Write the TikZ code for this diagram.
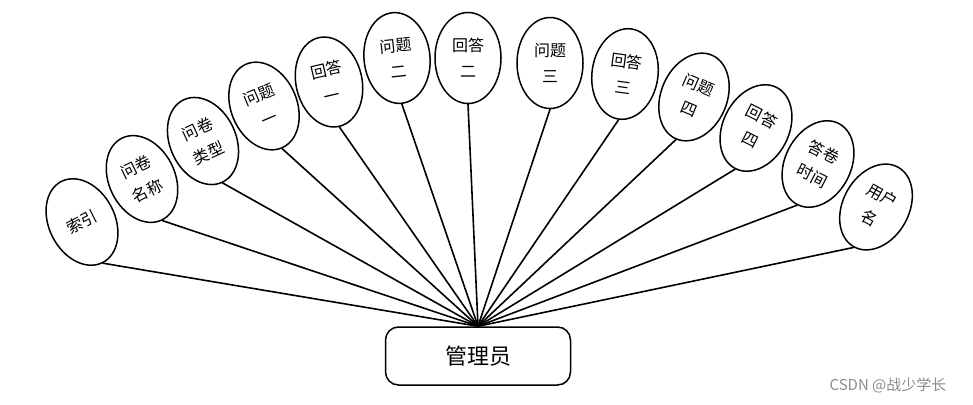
\documentclass[tikz,border=0pt]{standalone}
\usepackage{fontspec}
\setmainfont{Noto Sans CJK SC}
\usetikzlibrary{shapes.geometric}

\begin{document}
\begin{tikzpicture}[x=1pt, y=-1pt, line join=round, line cap=round,
    attr/.style={ellipse, draw=black, line width=1.5pt, fill=white, inner sep=0pt,
        minimum width=66pt, minimum height=91pt, align=center,
        font=\fontsize{16}{26}\selectfont},
    entity/.style={rectangle, rounded corners=13pt, draw=black, line width=1.5pt,
        fill=white, minimum width=185pt, minimum height=58pt,
        font=\fontsize{22}{26}\selectfont},
    link/.style={line width=1.6pt}]

    \useasboundingbox (0,0) rectangle (973,404);

    % Entity box at the bottom
    \node[entity] (MGR) at (478,356) {管理员};

    % Attribute ellipses, left to right along the fan
    \node[attr, rotate=27] (IDX) at (82,222) {索引};
    \node[attr, rotate=26] (QN) at (142,179) {问卷\\名称};
    \node[attr, rotate=25] (QT) at (203,141) {问卷\\类型};
    \node[attr, rotate=23] (Q1) at (264,106) {问题\\一};
    \node[attr, rotate=13] (A1) at (329,82) {回答\\一};
    \node[attr, rotate=6] (Q2) at (397,58) {问题\\二};
    \node[attr] (A2) at (468,58) {回答\\二};
    \node[attr] (Q3) at (550,63) {问题\\三};
    \node[attr, rotate=-8] (A3) at (625,74) {回答\\三};
    \node[attr, rotate=-23] (Q4) at (694,97) {问题\\四};
    \node[attr, rotate=-27] (A4) at (756,128) {回答\\四};
    \node[attr, rotate=-27] (AT) at (818,164) {答卷\\时间};
    \node[attr, rotate=-29] (USR) at (876,207) {用户\\名};

    % Connectors, from the foot of each ellipse to the top of the box
    \draw[link] (IDX.south) -- (MGR.north);
    \draw[link] (QN.south) -- (MGR.north);
    \draw[link] (QT.south) -- (MGR.north);
    \draw[link] (Q1.south) -- (MGR.north);
    \draw[link] (A1.south) -- (MGR.north);
    \draw[link] (Q2.south) -- (MGR.north);
    \draw[link] (A2.south) -- (MGR.north);
    \draw[link] (Q3.south) -- (MGR.north);
    \draw[link] (A3.south) -- (MGR.north);
    \draw[link] (Q4.south) -- (MGR.north);
    \draw[link] (A4.south) -- (MGR.north);
    \draw[link] (AT.south) -- (MGR.north);
    \draw[link] (USR.south) -- (MGR.north);

    % Watermark
    \node[text=black!45, font=\fontsize{15}{17}\selectfont] (WM) at (888,385) {CSDN @战少学长};

\end{tikzpicture}
\end{document}
